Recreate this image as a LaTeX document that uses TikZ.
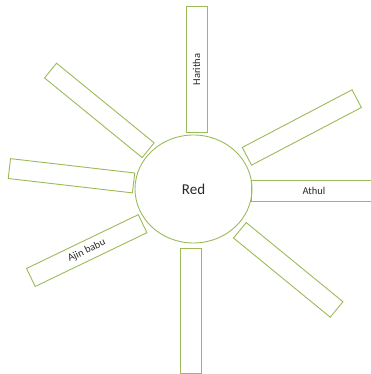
\documentclass[tikz,border=0pt]{standalone}
\usepackage{fontspec}
\setmainfont{Carlito}
\usepackage{xcolor}
\usetikzlibrary{shapes.geometric}
\definecolor{petalgreen}{RGB}{155, 187, 89}
\definecolor{labelgray}{RGB}{40, 40, 40}

\begin{document}
\begin{tikzpicture}[x=1pt, y=1pt,
    petal/.style={draw=petalgreen, line width=0.9pt, minimum width=125pt, minimum height=20pt, inner sep=0pt, text=labelgray, font=\fontsize{10.5}{12}\selectfont}]
        \clip (0,0) rectangle (371,374);

        % Centre
        \node[draw=petalgreen, line width=0.9pt, ellipse, minimum width=117pt, minimum height=108pt, inner sep=0pt, text=labelgray, font=\fontsize{15}{18}\selectfont] (red) at (193.5,185) {Red};

        % Top and right petals
        \node[petal, rotate=90, anchor=west, minimum width=126pt, minimum height=21pt] (haritha) at (196.5,241) {Haritha};
        \node[petal, rotate=27.7, anchor=west, minimum width=124pt] (petalne) at (246.5,217.5) {};
        \node[petal, anchor=west, minimum height=21pt] (athul) at (251,183.5) {Athul};
        \node[petal, rotate=-39.3, anchor=west] (petalse) at (239.5,144) {};

        % Bottom and left petals
        \node[petal, rotate=-90, anchor=west, minimum height=21pt] (petals) at (190.5,126) {};
        \node[petal, rotate=25.7, anchor=east, minimum width=124pt] (ajin) at (143,150.5) {Ajin\ babu};
        \node[petal, rotate=173.4, anchor=west] (petalw) at (134,191) {};
        \node[petal, rotate=140.8, anchor=west, minimum width=126pt, minimum height=19pt] (petalnw) at (148.5,223.5) {};
    \end{tikzpicture}
\end{document}
